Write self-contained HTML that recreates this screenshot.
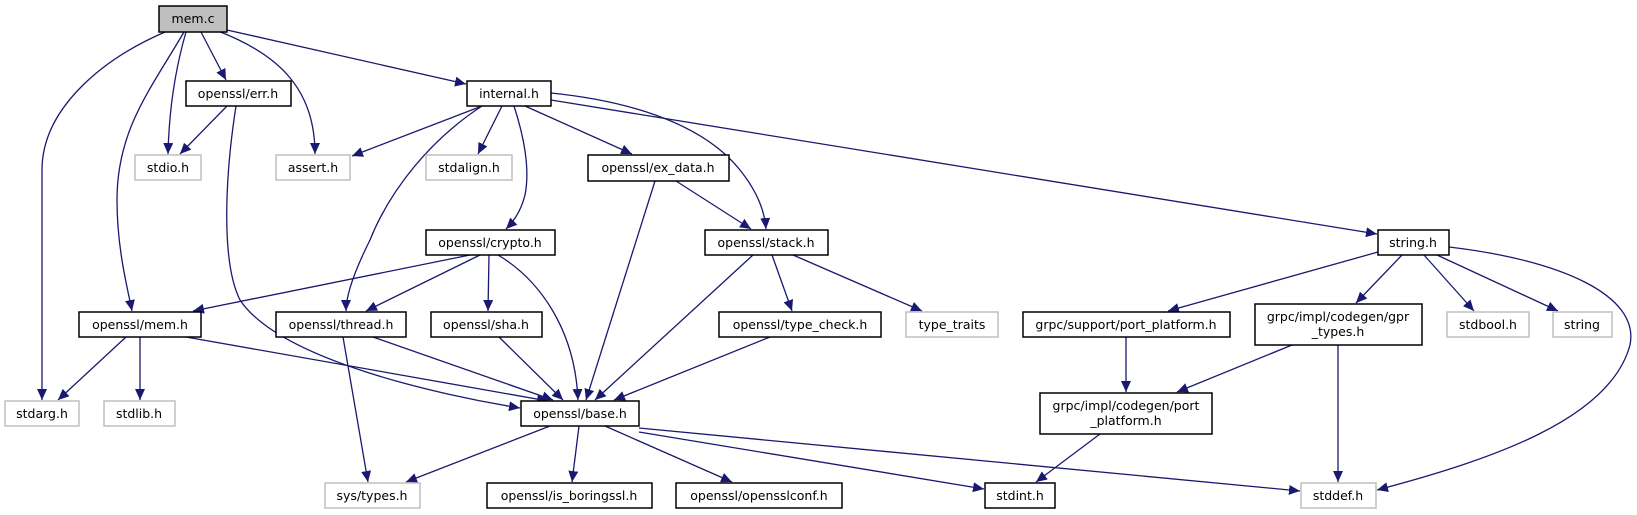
<!DOCTYPE html>
<html><head><meta charset="utf-8"><style>
html,body{margin:0;padding:0;background:#fff;width:1637px;height:515px;overflow:hidden}
svg text{font-family:"DejaVu Sans","Liberation Sans",sans-serif;font-size:12.5px;fill:#000;text-anchor:middle}
.e{fill:none;stroke:#191970;stroke-width:1.3;marker-end:url(#a)}
.n{fill:#fff;stroke:#000;stroke-width:1.5}
.g{fill:#fff;stroke:#bfbfbf;stroke-width:1.5}
</style></head><body>
<svg width="1637" height="515" viewBox="0 0 1637 515" xmlns="http://www.w3.org/2000/svg">
<defs><marker id="a" markerUnits="userSpaceOnUse" markerWidth="12" markerHeight="10" refX="11" refY="5" orient="auto"><path d="M0,0 L11,5 L0,10 z" fill="#191970"/></marker></defs>
<!-- edges -->
<path class="e" d="M165,32 C100,60 42,110 42,170 L42,400"/>
<path class="e" d="M184,32 C150,90 117,130 117,200 C117,250 128,290 132,311"/>
<path class="e" d="M186,32 C175,70 169,110 168,154"/>
<path class="e" d="M201,32 L226,80"/>
<path class="e" d="M218,31 C280,55 315,90 315,154"/>
<path class="e" d="M227,30 L466,84"/>
<path class="e" d="M227,106 L180,154"/>
<path class="e" d="M236,106 C226,170 220,260 240,300 C280,360 440,395 520,408"/>
<path class="e" d="M482,106 L352,156"/>
<path class="e" d="M482,106 C430,140 390,190 370,240 C350,280 346,300 346,311"/>
<path class="e" d="M502,106 L478,154"/>
<path class="e" d="M514,106 C525,140 530,170 525,195 C520,215 510,225 506,229"/>
<path class="e" d="M525,106 L632,154"/>
<path class="e" d="M551,93 C620,100 700,120 740,170 C760,195 765,215 766,229"/>
<path class="e" d="M551,100 L1377,234"/>
<path class="e" d="M676,181 L751,229"/>
<path class="e" d="M655,181 L586,400"/>
<path class="e" d="M470,255 L193,311"/>
<path class="e" d="M480,255 L366,311"/>
<path class="e" d="M489,255 L488,311"/>
<path class="e" d="M498,255 C540,280 575,330 578,400"/>
<path class="e" d="M753,255 L595,400"/>
<path class="e" d="M772,255 L792,311"/>
<path class="e" d="M793,255 L922,311"/>
<path class="e" d="M770,337 L614,400"/>
<path class="e" d="M126,337 L58,400"/>
<path class="e" d="M140,337 L140,400"/>
<path class="e" d="M186,337 L548,401"/>
<path class="e" d="M343,337 L368,482"/>
<path class="e" d="M373,337 L553,400"/>
<path class="e" d="M499,337 L563,400"/>
<path class="e" d="M550,426 L406,482"/>
<path class="e" d="M579,426 L572,482"/>
<path class="e" d="M605,426 L732,482"/>
<path class="e" d="M639,432 L984,489"/>
<path class="e" d="M639,428 L1300,491"/>
<path class="e" d="M1378,252 L1168,311"/>
<path class="e" d="M1402,255 L1356,303"/>
<path class="e" d="M1424,255 L1474,311"/>
<path class="e" d="M1437,255 L1558,311"/>
<path class="e" d="M1449,247 C1560,260 1640,295 1630,345 C1610,420 1490,460 1377,490"/>
<path class="e" d="M1126,337 L1126,392"/>
<path class="e" d="M1292,345 L1177,392"/>
<path class="e" d="M1338,345 L1338,482"/>
<path class="e" d="M1100,434 L1036,482"/>
<!-- nodes -->
<rect x="159" y="6" width="68" height="26" fill="#bfbfbf" stroke="#000" stroke-width="1.5"/><text x="193" y="23">mem.c</text>
<rect class="n" x="186" y="81" width="105" height="25"/><text x="238" y="98">openssl/err.h</text>
<rect class="n" x="467" y="81" width="84" height="25"/><text x="509" y="98">internal.h</text>
<rect class="g" x="135" y="155" width="66" height="25"/><text x="168" y="172">stdio.h</text>
<rect class="g" x="276" y="155" width="74" height="25"/><text x="313" y="172">assert.h</text>
<rect class="g" x="426" y="155" width="86" height="25"/><text x="469" y="172">stdalign.h</text>
<rect class="n" x="588" y="155" width="141" height="26"/><text x="658" y="172">openssl/ex_data.h</text>
<rect class="n" x="426" y="230" width="129" height="25"/><text x="490" y="247">openssl/crypto.h</text>
<rect class="n" x="705" y="230" width="123" height="25"/><text x="766" y="247">openssl/stack.h</text>
<rect class="n" x="1378" y="230" width="71" height="25"/><text x="1413" y="247">string.h</text>
<rect class="n" x="79" y="312" width="122" height="25"/><text x="140" y="329">openssl/mem.h</text>
<rect class="n" x="276" y="312" width="130" height="25"/><text x="341" y="329">openssl/thread.h</text>
<rect class="n" x="431" y="312" width="111" height="25"/><text x="486" y="329">openssl/sha.h</text>
<rect class="n" x="719" y="312" width="162" height="25"/><text x="800" y="329">openssl/type_check.h</text>
<rect class="g" x="906" y="312" width="92" height="25"/><text x="952" y="329">type_traits</text>
<rect class="n" x="1023" y="312" width="207" height="25"/><text x="1126" y="329">grpc/support/port_platform.h</text>
<rect class="n" x="1255" y="304" width="167" height="41"/><text x="1338" y="321">grpc/impl/codegen/gpr</text><text x="1338" y="336">_types.h</text>
<rect class="g" x="1447" y="312" width="82" height="25"/><text x="1488" y="329">stdbool.h</text>
<rect class="g" x="1553" y="312" width="59" height="25"/><text x="1582" y="329">string</text>
<rect class="n" x="1040" y="393" width="172" height="41"/><text x="1126" y="410">grpc/impl/codegen/port</text><text x="1126" y="425">_platform.h</text>
<rect class="g" x="5" y="401" width="74" height="25"/><text x="42" y="418">stdarg.h</text>
<rect class="g" x="104" y="401" width="71" height="25"/><text x="139" y="418">stdlib.h</text>
<rect class="n" x="521" y="401" width="118" height="25"/><text x="580" y="418">openssl/base.h</text>
<rect class="g" x="325" y="483" width="95" height="25"/><text x="372" y="500">sys/types.h</text>
<rect class="n" x="487" y="483" width="165" height="25"/><text x="569" y="500">openssl/is_boringssl.h</text>
<rect class="n" x="676" y="483" width="166" height="25"/><text x="759" y="500">openssl/opensslconf.h</text>
<rect class="n" x="985" y="483" width="70" height="25"/><text x="1020" y="500">stdint.h</text>
<rect class="g" x="1301" y="483" width="75" height="25"/><text x="1338" y="500">stddef.h</text>
</svg>
</body></html>
